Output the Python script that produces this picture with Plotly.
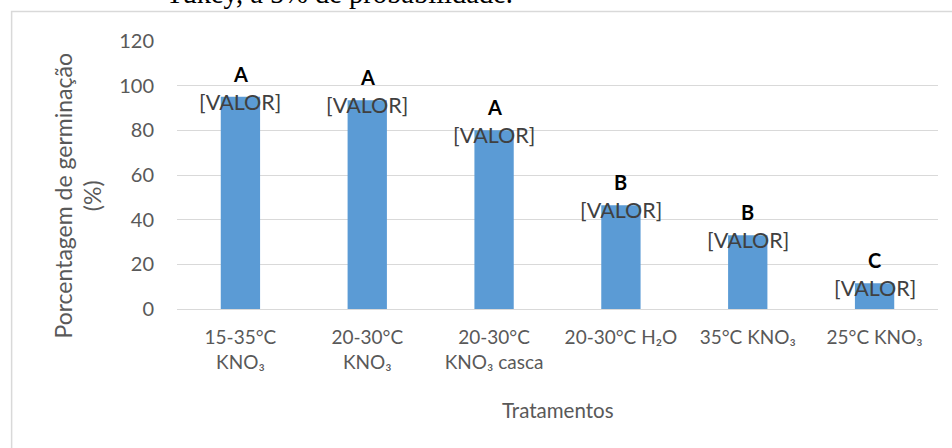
import plotly.graph_objects as go

# Germination percentage per treatment, with Tukey grouping letters
tratamentos = [
    "15-35°C<br>KNO₃",
    "20-30°C<br>KNO₃",
    "20-30°C<br>KNO₃ casca",
    "20-30°C H₂O",
    "35°C KNO₃",
    "25°C KNO₃",
]
germinacao = [95, 93.5, 80, 46.5, 33, 11.5]
letras = ["A", "A", "A", "B", "B", "C"]
rotulos = ["[VALOR]"] * len(tratamentos)
y_ticks = [0, 20, 40, 60, 80, 100, 120]

W, H = 952, 448
L, R, T, B = 176.5, 14, 41.4, 139.3
plot_w = W - L - R
plot_h = H - T - B


def px_x(px):
    return (px - L) / plot_w


def px_y(py):
    return (H - B - py) / plot_h


FONT = "Lato"
GRAY = "#595959"
GRID = "#d9d9d9"

fig = go.Figure(
    go.Bar(
        x=tratamentos,
        y=germinacao,
        marker=dict(color="#5b9bd5", line=dict(width=0)),
        hoverinfo="x+y",
    )
)

annotations = []
for cat, val, let, lab in zip(tratamentos, germinacao, letras, rotulos):
    annotations.append(dict(
        x=cat, y=val, xref="x", yref="y", text=lab, showarrow=False,
        yshift=-5, yanchor="middle",
        font=dict(family=FONT, size=21.5, color="#404040"),
    ))
    annotations.append(dict(
        x=cat, y=val, xref="x", yref="y", text="<b>" + let + "</b>",
        showarrow=False, yshift=23, yanchor="middle",
        font=dict(family=FONT, size=20, color="#000000"),
    ))

# axis titles
annotations.append(dict(
    x=0.5, y=px_y(409), xref="paper", yref="paper",
    text="Tratamentos", showarrow=False, yanchor="middle",
    font=dict(family=FONT, size=20.5, color=GRAY),
))
annotations.append(dict(
    x=px_x(77), y=px_y(196), xref="paper", yref="paper",
    text="Porcentagem de germinação<br>(%)", showarrow=False,
    textangle=-90, xanchor="center", yanchor="middle",
    font=dict(family=FONT, size=23, color=GRAY),
))
# caption line of the surrounding document, cut at the top edge
annotations.append(dict(
    x=px_x(163), y=px_y(11.5), xref="paper", yref="paper",
    text="Tukey, a 5% de probabilidade.", showarrow=False,
    xanchor="left", yanchor="bottom",
    font=dict(family="Liberation Serif", size=28.5, color="#000000"),
))

fig.update_layout(
    width=W, height=H,
    margin=dict(l=L, r=R, t=T, b=B, pad=0),
    paper_bgcolor="white", plot_bgcolor="white",
    bargap=0.69,
    showlegend=False,
    annotations=annotations,
    shapes=[dict(
        type="rect", xref="paper", yref="paper",
        x0=px_x(11), x1=px_x(960), y0=px_y(460), y1=px_y(12),
        line=dict(color=GRID, width=1.5), fillcolor="rgba(0,0,0,0)",
        layer="below",
    )],
)
fig.update_xaxes(
    showgrid=False, showline=False, zeroline=False,
    ticks="", ticklabelstandoff=15,
    tickfont=dict(family=FONT, size=19, color=GRAY),
)
fig.update_yaxes(
    range=[0, 120], tickvals=y_ticks,
    showgrid=True, gridcolor=GRID, gridwidth=1.3,
    zeroline=True, zerolinecolor=GRID, zerolinewidth=1.3,
    showline=False, ticks="", ticklabelstandoff=22,
    tickfont=dict(family=FONT, size=20, color=GRAY),
)

fig.write_html("out.html")
